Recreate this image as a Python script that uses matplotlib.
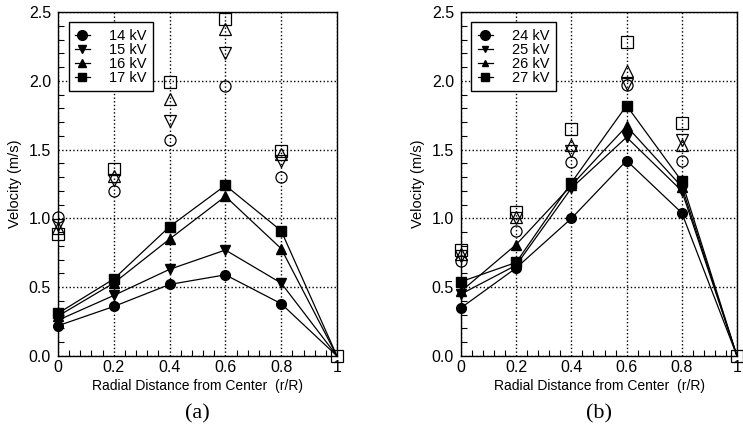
import numpy as np
import matplotlib
matplotlib.use("Agg")
import matplotlib.pyplot as plt
from matplotlib.ticker import MultipleLocator

SANS = ['Liberation Sans', 'DejaVu Sans']
SERIF = ['Liberation Serif', 'DejaVu Serif']
plt.rcParams['font.family'] = SANS

r = [0, 0.2, 0.4, 0.6, 0.8, 1.0]

# Panel (a) - filled (connected) series
a_labels = ["14 kV", "15 kV", "16 kV", "17 kV"]
a_filled = [
    [0.22, 0.36, 0.52, 0.59, 0.38, 0.0],
    [0.26, 0.44, 0.63, 0.77, 0.53, 0.0],
    [0.29, 0.53, 0.85, 1.16, 0.78, 0.0],
    [0.31, 0.56, 0.94, 1.24, 0.91, 0.0],
]
# Panel (a) - open (unconnected) series
a_open = [
    [1.01, 1.20, 1.57, 1.96, 1.30, np.nan],
    [0.95, 1.28, 1.71, 2.20, 1.42, np.nan],
    [0.93, 1.31, 1.87, 2.38, 1.47, np.nan],
    [0.89, 1.36, 1.99, 2.45, 1.49, 0.0],
]

# Panel (b)
b_labels = ["24 kV", "25 kV", "26 kV", "27 kV"]
b_filled = [
    [0.35, 0.64, 1.00, 1.42, 1.04, 0.0],
    [0.45, 0.66, 1.22, 1.59, 1.20, 0.0],
    [0.47, 0.81, 1.24, 1.67, 1.23, 0.0],
    [0.54, 0.68, 1.26, 1.82, 1.27, 0.0],
]
b_open = [
    [0.69, 0.91, 1.41, 1.97, 1.42, np.nan],
    [0.73, 1.00, 1.49, 1.98, 1.57, np.nan],
    [0.74, 1.01, 1.53, 2.07, 1.53, np.nan],
    [0.77, 1.05, 1.65, 2.28, 1.69, 0.0],
]

markers = ['o', 'v', '^', 's']

x_ticks = [0, 0.2, 0.4, 0.6, 0.8, 1.0]
x_ticklabels = ["0", "0.2", "0.4", "0.6", "0.8", "1"]
y_ticks = [0.0, 0.5, 1.0, 1.5, 2.0, 2.5]
y_ticklabels = ["0.0", "0.5", "1.0", "1.5", "2.0", "2.5"]

fig = plt.figure(figsize=(7.43, 4.40), dpi=100)
W, H = 743, 440
AW, AH = 279, 344
ax_a = fig.add_axes([58 / W, (H - 356) / H, AW / W, AH / H])
ax_b = fig.add_axes([461 / W, (H - 356) / H, 276 / W, AH / H])


def draw(ax, filled, opened, labels, tag, leg_ms):
    ax.set_xlim(0, 1)
    ax.set_ylim(0, 2.5)
    ax.grid(True, which='major', color='black', linestyle=':', linewidth=1.0)
    ax.set_axisbelow(True)
    for i, vals in enumerate(filled):
        ax.plot(r, vals, color='black', linewidth=0.9, marker=markers[i],
                markersize=7, markerfacecolor='black',
                markeredgecolor='black', markevery=[0, 1, 2, 3, 4],
                clip_on=False, zorder=3)
    for i, vals in enumerate(opened):
        ax.plot(r, vals, linestyle='none', marker=markers[i], markersize=8,
                markerfacecolor='none', markeredgecolor='black',
                markeredgewidth=0.9, clip_on=False, zorder=4)
    ax.set_xticks(x_ticks)
    ax.set_xticklabels(x_ticklabels, family=SANS)
    ax.set_yticks(y_ticks)
    ax.set_yticklabels(y_ticklabels, family=SANS)
    ax.xaxis.set_minor_locator(MultipleLocator(0.04))
    ax.yaxis.set_minor_locator(MultipleLocator(0.1))
    ax.tick_params(which='both', direction='in', top=False, right=False,
                   labelsize=11.5, colors='black')
    ax.tick_params(which='major', length=0)
    ax.tick_params(axis='x', which='major', pad=3)
    ax.tick_params(axis='y', which='major', pad=5)
    ax.tick_params(which='minor', length=4, width=0.8)
    for s in ax.spines.values():
        s.set_linewidth(1.0)
        s.set_color('black')
    ax.set_xlabel("Radial Distance from Center  (r/R)", fontsize=10, family=SANS)
    ax.set_ylabel("Velocity (m/s)", fontsize=10.5, family=SANS)
    ax.xaxis.set_label_coords(0.5, -23 / AH)
    ax.yaxis.set_label_coords(-36 / AW, 0.5)
    leg_handles = []
    for i in range(4):
        lh, = ax.plot([], [], color='black', linewidth=0.9, marker=markers[i],
                      markersize=leg_ms[i], markerfacecolor='black',
                      markeredgecolor='black')
        leg_handles.append(lh)
    leg = ax.legend(leg_handles, labels, loc='upper left',
                    bbox_to_anchor=(0.038, 0.97),
                    prop={'family': SANS, 'size': 10.5},
                    frameon=True, fancybox=False, edgecolor='black',
                    framealpha=1, handlelength=1.0, handletextpad=1.3,
                    labelspacing=0.0, borderpad=0.45, borderaxespad=0)
    leg.get_frame().set_linewidth(1.0)
    leg.set_zorder(5)
    ax.text(0.5, -(414 - 356) / AH, tag, transform=ax.transAxes, ha='center',
            va='center', fontsize=16, family=SERIF)


draw(ax_a, a_filled, a_open, a_labels, "(a)", [7, 6, 6, 6])
draw(ax_b, b_filled, b_open, b_labels, "(b)", [7, 5, 5, 6])

fig.savefig("out.png", dpi=100)
